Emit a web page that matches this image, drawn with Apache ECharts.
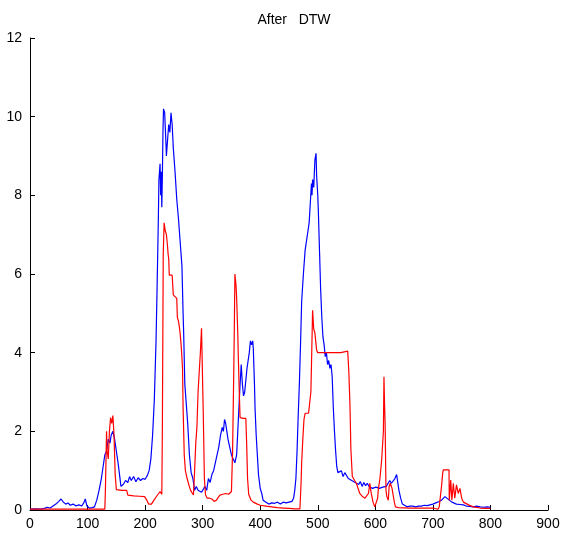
<!DOCTYPE html>
<html>
<head>
<meta charset="utf-8">
<script src="https://cdn.jsdelivr.net/npm/echarts@6/dist/echarts.min.js"></script>
<style>
    html, body {margin: 0; padding: 0; background: #fff;}
    #chart {width: 564px; height: 537px;}
</style>
</head>
<body>
<div id="chart"></div>
<script>
// 蓝线 (x, y)
var blueX = [0, 10, 18, 20, 25, 30, 35, 40, 45, 50, 54, 58, 62, 66, 70, 75, 80, 85, 90, 94, 96, 99, 103, 108, 112, 116,
    120, 124, 127, 130, 133, 136, 139, 141, 144, 147, 150, 153, 156, 158, 162, 166, 170, 173, 176, 180, 184, 188, 192,
    196, 200, 204, 207, 210, 213, 216, 219, 221, 223, 224, 226, 227, 228, 229, 230, 231, 232, 234, 236, 237, 239, 241,
    243, 245, 247, 249, 252, 255, 258, 261, 264, 266, 267, 269, 271, 274, 277, 280, 283, 286, 289, 292, 295, 298, 301,
    304, 307, 310, 313, 316, 319, 322, 325, 328, 331, 334, 336, 338, 340, 342, 344, 347, 350, 353, 356, 359, 361, 363,
    365, 367, 369, 371, 373, 375, 377, 379, 381, 383, 385, 387, 388, 390, 391, 393, 395, 397, 400, 403, 405, 410, 415,
    420, 425, 430, 435, 440, 445, 450, 455, 458, 460, 462, 464, 466, 468, 470, 472, 475, 478, 481, 483, 485, 487, 489,
    490, 491, 493, 495, 497, 498, 500, 501, 503, 505, 507, 509, 511, 513, 515, 517, 519, 521, 523, 525, 526, 527, 529,
    531, 533, 535, 538, 541, 544, 547, 550, 553, 556, 559, 562, 565, 568, 571, 574, 577, 580, 583, 586, 589, 592, 595,
    598, 601, 604, 607, 610, 613, 616, 619, 622, 625, 628, 631, 634, 637, 639, 641, 644, 647, 650, 655, 660, 665, 670,
    675, 680, 685, 690, 695, 700, 705, 710, 715, 718, 721, 724, 727, 730, 733, 736, 741, 747, 753, 758, 764, 770, 776,
    782, 788, 794, 800];
var blueY = [0.02, 0.03, 0.02, 0.06, 0.04, 0.07, 0.05, 0.1, 0.15, 0.22, 0.28, 0.2, 0.15, 0.18, 0.12, 0.15, 0.1, 0.13,
    0.1, 0.2, 0.28, 0.1, 0.05, 0.06, 0.08, 0.25, 0.5, 0.8, 1.1, 1.4, 1.5, 1.8, 1.7, 1.9, 2.0, 1.8, 1.5, 1.2, 0.85, 0.6,
    0.65, 0.75, 0.7, 0.85, 0.75, 0.85, 0.72, 0.82, 0.75, 0.8, 0.78, 0.88, 1.0, 1.3, 1.9, 2.8, 4.3, 5.8, 7.4, 8.4, 8.8,
    8.0, 8.6, 7.7, 8.5, 9.6, 10.2, 10.1, 9.4, 9.0, 9.4, 9.8, 9.6, 10.1, 9.8, 9.2, 8.6, 7.9, 7.4, 6.8, 6.2, 5.0, 4.5,
    3.2, 2.8, 2.2, 1.4, 0.95, 0.8, 0.5, 0.6, 0.5, 0.55, 0.45, 0.5, 0.6, 0.5, 0.8, 0.7, 0.9, 1.0, 1.2, 1.4, 1.6, 1.9,
    2.1, 2.0, 2.3, 2.2, 2.0, 1.8, 1.6, 1.4, 1.3, 1.2, 1.4, 2.0, 2.6, 3.2, 3.7, 3.2, 2.9, 3.0, 3.3, 3.6, 3.8, 4.0, 4.3,
    4.2, 4.3, 4.1, 3.2, 2.6, 1.9, 1.4, 0.9, 0.55, 0.4, 0.25, 0.2, 0.15, 0.18, 0.17, 0.2, 0.15, 0.2, 0.18, 0.2, 0.22,
    0.3, 0.5, 0.8, 1.5, 2.4, 3.2, 4.2, 5.3, 6.0, 6.6, 6.9, 7.1, 7.3, 7.8, 8.3, 8.0, 8.4, 8.2, 8.9, 9.07, 8.5, 8.0, 7.6,
    6.6, 5.6, 4.9, 4.4, 4.2, 3.9, 4.0, 3.7, 3.8, 3.6, 3.7, 3.4, 3.0, 2.6, 2.0, 1.5, 1.1, 0.95, 0.9, 1.0, 0.85, 0.95,
    0.98, 0.8, 0.85, 0.75, 0.8, 0.7, 0.75, 0.65, 0.72, 0.6, 0.7, 0.62, 0.68, 0.6, 0.65, 0.55, 0.6, 0.58, 0.62, 0.55,
    0.6, 0.58, 0.62, 0.6, 0.65, 0.75, 0.68, 0.7, 0.8, 0.9, 0.7, 0.5, 0.3, 0.15, 0.1, 0.08, 0.1, 0.1, 0.08, 0.1, 0.1,
    0.12, 0.11, 0.13, 0.15, 0.18, 0.21, 0.25, 0.28, 0.34, 0.3, 0.27, 0.22, 0.2, 0.18, 0.15, 0.14, 0.13, 0.1, 0.09,
    0.08, 0.1, 0.08, 0.07, 0.08, 0.07];

// 红线 (x, y)
var redX = [0, 130, 131, 133, 134, 136, 138, 140, 142, 144, 146, 148, 150, 160, 168, 170, 180, 190, 199, 203, 206,
    208, 211, 214, 217, 220, 223, 226, 228, 229, 230, 231.5, 233, 235, 237, 239, 240, 241, 242, 247, 249, 255, 256,
    258, 260, 262, 263.5, 265, 266, 268, 270, 273, 276, 279, 281, 284, 286, 288, 290, 292, 294, 296, 298, 299.5, 301,
    303, 305, 308, 312, 316, 320, 324, 327, 330, 335, 340, 345, 350, 352, 354, 355, 356, 358, 359, 361, 362, 364, 365,
    370, 375, 376.5, 378, 380, 384, 388, 395, 400, 410, 420, 430, 440, 450, 460, 469, 471, 472, 474, 476, 478, 484,
    486.5, 488, 489, 491, 493, 495, 496, 498, 500, 520, 540, 552, 554, 556, 557.5, 560, 564, 567, 570, 573, 577, 582,
    585, 588, 590.5, 592, 593, 596, 599, 602, 604, 605, 608, 611, 613, 614, 615, 616, 617, 618.5, 620, 622.5, 624,
    626, 629, 631, 633, 635, 640, 660, 680, 700, 703, 709, 711, 713, 715, 717, 718, 728, 728.5, 731, 733, 735.5, 738,
    741, 744, 747, 750, 753, 756, 762, 770, 782, 790, 800];
var redY = [0.02, 0.02, 0.5, 2.0, 1.5, 1.3, 2.0, 2.35, 2.2, 2.4, 1.9, 0.9, 0.52, 0.5, 0.5, 0.38, 0.36, 0.35, 0.34,
    0.25, 0.15, 0.1, 0.15, 0.22, 0.25, 0.35, 0.3, 0.47, 0.5, 0.4, 2.1, 6.5, 7.3, 7.1, 7.0, 6.7, 6.5, 6.4, 5.97, 5.97,
    5.47, 5.38, 4.9, 4.8, 4.6, 4.3, 4.0, 3.6, 2.6, 1.4, 1.0, 0.8, 0.64, 0.5, 0.47, 0.38, 1.0, 1.7, 2.1, 3.0, 3.5, 4.0,
    4.62, 4.6, 2.5, 0.8, 0.38, 0.3, 0.3, 0.28, 0.22, 0.25, 0.32, 0.38, 0.4, 0.42, 0.4, 0.47, 1.5, 3.5, 4.6, 6.0, 5.7,
    5.4, 4.5, 3.86, 2.8, 2.35, 2.33, 2.33, 1.65, 0.8, 0.4, 0.25, 0.2, 0.15, 0.12, 0.1, 0.08, 0.06, 0.05, 0.04, 0.03,
    0.03, 0.7, 1.2, 1.8, 2.3, 2.46, 2.46, 2.46, 3.0, 3.64, 5.08, 4.6, 4.5, 4.35, 4.07, 4.0, 4.0, 4.0, 4.04, 3.5, 2.63,
    1.55, 0.85, 0.75, 0.68, 0.55, 0.42, 0.35, 0.3, 0.35, 0.42, 0.68, 0.5, 0.42, 0.2, 0.08, 0.05, 0.3, 0.5, 0.8, 1.27,
    1.27, 2.0, 3.39, 2.7, 2.2, 0.5, 0.34, 0.25, 0.6, 0.68, 0.55, 0.6, 0.2, 0.08, 0.06, 0.05, 0.05, 0.05, 0.02, 0.02,
    0.08, 0.34, 0.6, 0.93, 1.02, 1.02, 0.25, 0.76, 0.25, 0.68, 0.3, 0.64, 0.42, 0.55, 0.3, 0.2, 0.17, 0.13, 0.08,
    0.05, 0.04, 0.04];

var xTicks = {min: 0, max: 900, interval: 100};
var yTicks = {min: 0, max: 12, interval: 2};

function zip(xs, ys) {
    let out = [];
    for (let i = 0; i < xs.length; i++) {
        out.push([xs[i], ys[i]]);
    }
    return out;
}

var axisFont = {color: '#000', fontSize: 14, fontFamily: 'Liberation Sans, Arial, sans-serif'};

var myChart = echarts.init(document.getElementById('chart'));
myChart.setOption({
    animation: false,
    title: {
        text: 'After   DTW',
        left: 289,
        textAlign: 'center',
        top: 8,
        textStyle: {color: '#000', fontSize: 14, fontWeight: 'normal', fontFamily: 'Liberation Sans, Arial, sans-serif'}
    },
    grid: {left: 30, right: 16, top: 38, bottom: 27, containLabel: false},
    xAxis: {
        type: 'value',
        min: xTicks.min,
        max: xTicks.max,
        interval: xTicks.interval,
        axisLine: {show: true, lineStyle: {color: '#000', width: 1}},
        axisTick: {show: true, inside: true, length: 5, lineStyle: {color: '#000'}},
        axisLabel: Object.assign({margin: 7}, axisFont),
        splitLine: {show: false}
    },
    yAxis: {
        type: 'value',
        min: yTicks.min,
        max: yTicks.max,
        interval: yTicks.interval,
        axisLine: {show: true, lineStyle: {color: '#000', width: 1}},
        axisTick: {show: true, inside: true, length: 5, lineStyle: {color: '#000'}},
        axisLabel: Object.assign({margin: 8}, axisFont),
        splitLine: {show: false}
    },
    series: [
        {
            name: 'blue',
            type: 'line',
            data: zip(blueX, blueY),
            showSymbol: false,
            lineStyle: {color: '#0000ff', width: 1.2},
            z: 2
        },
        {
            name: 'red',
            type: 'line',
            data: zip(redX, redY),
            showSymbol: false,
            lineStyle: {color: '#ff0000', width: 1.2},
            z: 3
        }
    ]
});
</script>
</body>
</html>
